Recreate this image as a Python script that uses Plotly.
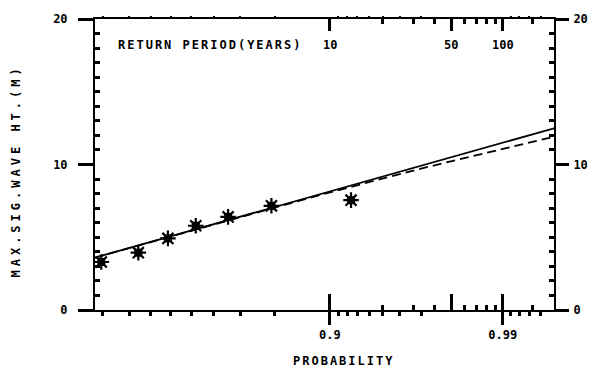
import numpy as np
import plotly.graph_objects as go

# Annual maximum significant wave heights (plotting position probability, metres)
prob_obs = [0.095, 0.241, 0.386, 0.521, 0.657, 0.792, 0.924]
hs_obs = [3.30, 3.94, 4.92, 5.79, 6.40, 7.16, 7.55]

# Fitted distributions: straight Gumbel fit (solid) and a second fit (dashed)
fit_prob = [0.077, 0.995]
fit_solid = [3.60, 12.49]
alt_prob = [0.077, 0.534, 0.896, 0.9718, 0.9889, 0.995]
alt_dashed = [3.60, 5.60, 8.03, 9.80, 10.96, 11.91]

# Axis ticks
prob_major = [0.9, 0.99]
prob_major_text = ["0.9", "0.99"]
prob_minor = [0.1, 0.2, 0.3, 0.4, 0.5, 0.6, 0.7, 0.8,
              0.91, 0.92, 0.93, 0.94, 0.95, 0.96, 0.97,
              0.991, 0.992, 0.993, 0.994]
rp_major = [10, 50, 100]
rp_major_text = ["10", "50", "100"]
rp_minor = [20, 30, 40, 60, 70, 80, 90, 150]
height_major = [0, 10, 20]
height_minor = [h for h in range(1, 20) if h != 10]


def gumbel(p):
    """Reduced Gumbel variate for a non-exceedance probability."""
    return [float(-np.log(-np.log(v))) for v in p]


def rp_to_prob(t):
    return [1.0 - 1.0 / v for v in t]


xr = gumbel(fit_prob)
FONT = dict(family="DejaVu Sans Mono", size=12, color="black", weight="bold")
INK = "black"

fig = go.Figure()

fig.add_trace(go.Scatter(x=gumbel(fit_prob), y=fit_solid, mode="lines",
                         line=dict(color=INK, width=1.8), showlegend=False))
fig.add_trace(go.Scatter(x=gumbel(alt_prob), y=alt_dashed, mode="lines",
                         line=dict(color=INK, width=1.8, dash="9px,5px"),
                         showlegend=False))
fig.add_trace(go.Scatter(x=gumbel(prob_obs), y=hs_obs, mode="markers",
                         marker=dict(symbol="square", size=8, color=INK),
                         showlegend=False))
fig.add_trace(go.Scatter(x=gumbel(prob_obs), y=hs_obs, mode="markers",
                         marker=dict(symbol="asterisk-open", size=13, color=INK,
                                     line=dict(color=INK, width=2.2)),
                         showlegend=False))


def x_ticks(side, vals, ticks, ticklen, width=2.5, **extra):
    d = dict(range=xr, side=side, tickmode="array", tickvals=vals,
             ticks=ticks, ticklen=ticklen, tickwidth=width, tickcolor=INK,
             showgrid=False, zeroline=False)
    d.update(extra)
    return d


def y_ticks(side, vals, ticks, ticklen, width=2.5, **extra):
    d = dict(range=[0, 20], side=side, tickmode="array", tickvals=vals,
             ticks=ticks, ticklen=ticklen, tickwidth=width, tickcolor=INK,
             showgrid=False, zeroline=False)
    d.update(extra)
    return d


ox = dict(overlaying="x", anchor="y", showticklabels=False)
oy = dict(overlaying="y", anchor="x", showticklabels=False)
frame = dict(showline=True, linecolor=INK, linewidth=2)

fig.update_layout(
    width=600, height=376,
    margin=dict(l=95, r=40, t=15, b=66),
    paper_bgcolor="white", plot_bgcolor="white",
    font=FONT, showlegend=False,
    # bottom: probability scale (outside) and return-period marks (inside)
    xaxis=x_ticks("bottom", gumbel(prob_major), "outside", 13,
                  ticktext=prob_major_text, tickfont=FONT,
                  ticklabelstandoff=0, **frame),
    xaxis3=x_ticks("bottom", gumbel(rp_to_prob(rp_major)), "inside", 16, **ox),
    xaxis5=x_ticks("bottom", gumbel(prob_minor), "outside", 5, **ox),
    xaxis6=x_ticks("bottom", gumbel(rp_to_prob(rp_minor)), "inside", 5, **ox),
    # top: return-period scale
    xaxis2=x_ticks("top", gumbel(rp_to_prob(rp_major)), "inside", 12,
                   **ox, **frame),
    xaxis4=x_ticks("top", gumbel(prob_minor), "outside", 2, 1.5, **ox),
    xaxis7=x_ticks("top", gumbel(rp_to_prob(rp_minor)), "inside", 5, **ox),
    # wave height, both sides
    yaxis=y_ticks("left", height_major, "outside", 15, tickfont=FONT,
                  ticklabelstandoff=8, **frame),
    yaxis3=y_ticks("left", height_minor, "inside", 5, **oy),
    yaxis2=y_ticks("right", height_major, "outside", 13, overlaying="y",
                   anchor="x", tickfont=FONT, ticklabelstandoff=2, **frame),
    yaxis4=y_ticks("right", height_minor, "inside", 5, **oy),
)

annotations = [
    dict(text='<span style="letter-spacing:2px">RETURN PERIOD(YEARS)</span>',
         xref="paper", yref="paper", x=0.045, y=0.909,
         xanchor="left", yanchor="middle", showarrow=False, font=FONT),
    dict(text='<span style="letter-spacing:2px">PROBABILITY</span>',
         xref="paper", yref="paper", x=0.542, y=-0.174,
         xanchor="center", yanchor="middle", showarrow=False, font=FONT),
    dict(text='<span style="letter-spacing:4px">MAX.SIG.WAVE HT.(M)</span>',
         xref="paper", yref="paper", x=-0.172, y=0.476, textangle=-90,
         xanchor="center", yanchor="middle", showarrow=False, font=FONT),
]
# return-period labels under the top axis
for t, label in zip(gumbel(rp_to_prob(rp_major)), rp_major_text):
    annotations.append(dict(text=label, x=t, xref="x", yref="paper",
                            y=0.909, xanchor="center", yanchor="middle",
                            showarrow=False, font=FONT))
fig.update_layout(annotations=annotations)

# Invisible anchors so every overlay axis is drawn
for xa in ["x2", "x3", "x4", "x5", "x6", "x7"]:
    fig.add_trace(go.Scatter(x=[xr[0]], y=[0], xaxis=xa, yaxis="y",
                             mode="markers", marker=dict(opacity=0),
                             hoverinfo="skip", showlegend=False))
for ya in ["y2", "y3", "y4"]:
    fig.add_trace(go.Scatter(x=[xr[0]], y=[0], xaxis="x", yaxis=ya,
                             mode="markers", marker=dict(opacity=0),
                             hoverinfo="skip", showlegend=False))

fig.write_html("out.html")
